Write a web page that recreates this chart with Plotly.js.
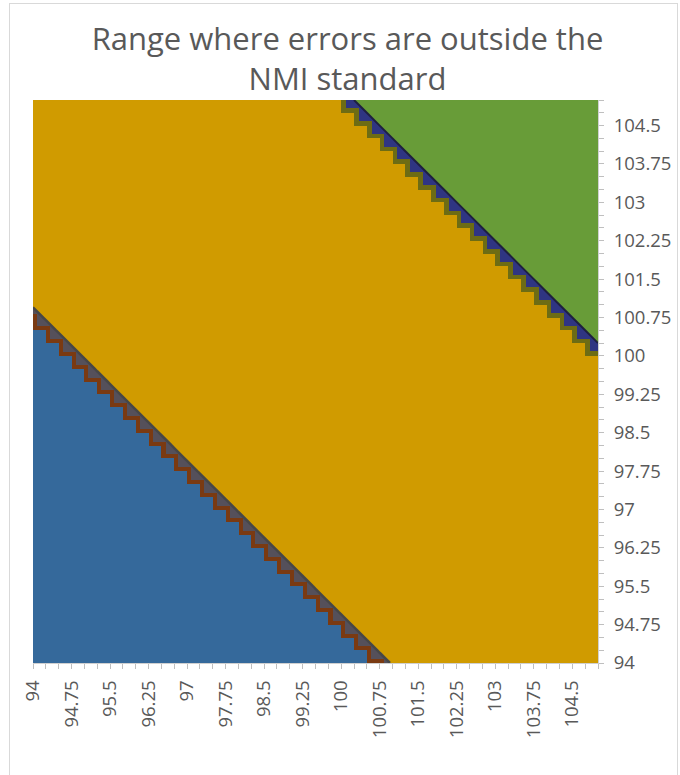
<!DOCTYPE html>
<html>
<head>
<meta charset="utf-8">
<script src="https://cdn.plot.ly/plotly-3.0.1.min.js"></script>
<style>
  html, body { margin: 0; padding: 0; background: #ffffff; }
  #frame { position: absolute; left: 9px; top: 3px; width: 667px; height: 800px; border: 1px solid #d9d9d9; pointer-events: none; }
  #chart { position: absolute; left: 0; top: 0; width: 680px; height: 775px; }
</style>
</head>
<body>
<div id="frame"></div>
<div id="chart"></div>
<script>
// Category values of both axes (step 0.25)
const xCategories = [94, 94.25, 94.5, 94.75, 95, 95.25, 95.5, 95.75, 96, 96.25, 96.5, 96.75, 97, 97.25, 97.5, 97.75,
  98, 98.25, 98.5, 98.75, 99, 99.25, 99.5, 99.75, 100, 100.25, 100.5, 100.75, 101, 101.25, 101.5, 101.75,
  102, 102.25, 102.5, 102.75, 103, 103.25, 103.5, 103.75, 104, 104.25, 104.5, 104.75, 105];
const yCategories = [94, 94.25, 94.5, 94.75, 95, 95.25, 95.5, 95.75, 96, 96.25, 96.5, 96.75, 97, 97.25, 97.5, 97.75,
  98, 98.25, 98.5, 98.75, 99, 99.25, 99.5, 99.75, 100, 100.25, 100.5, 100.75, 101, 101.25, 101.5, 101.75,
  102, 102.25, 102.5, 102.75, 103, 103.25, 103.5, 103.75, 104, 104.25, 104.5, 104.75, 105];

// Tick labels (every third category)
const tickValues = [94, 94.75, 95.5, 96.25, 97, 97.75, 98.5, 99.25, 100, 100.75, 101.5, 102.25, 103, 103.75, 104.5];
const tickLabels = ['94', '94.75', '95.5', '96.25', '97', '97.75', '98.5', '99.25', '100', '100.75', '101.5', '102.25', '103', '103.75', '104.5'];

// Limits of x + y
const lowerCellLimit = 194.75;  // cells fully below the lower limit
const lowerLineLimit = 194.95;  // lower band boundary
const upperCellLimit = 205.0;   // cells fully below the upper limit
const upperLineLimit = 205.25;  // upper band boundary

// Band colours
const colBlue = '#35699b';
const colBrown = '#7a3a12';
const colSlate = '#55505a';
const colGold = '#d09b00';
const colOlive = '#6d6c14';
const colNavy = '#2f3582';
const colGreen = '#689c38';

// Value surface x + y on the grid
const zSum = yCategories.map(y => xCategories.map(x => x + y));

function stairTrace(limit, shift, color, ax) {
  const ex = [xCategories[0] - 0.25].concat(xCategories);
  const ey = [yCategories[0] - 0.25].concat(yCategories);
  const z = [];
  for (let j = 0; j < ey.length - 1; j++) {
    const row = [];
    for (let i = 0; i < ex.length - 1; i++) {
      row.push(ex[i + 1] + ey[j + 1] <= limit + 1e-9 ? 1 : null);
    }
    z.push(row);
  }
  return {
    type: 'heatmap', x: ex.map(v => v + shift), y: ey.map(v => v + shift), z: z,
    colorscale: [[0, color], [1, color]], zmin: 0, zmax: 1, showscale: false,
    zsmooth: false, hoverinfo: 'skip', xaxis: 'x' + ax, yaxis: 'y' + ax
  };
}

// fillBelow: true fills the region where x + y < level
function bandTrace(level, fillBelow, fill, lineColor, lineWidth, ax) {
  return {
    type: 'contour', x: xCategories, y: yCategories, z: zSum,
    contours: { type: 'constraint', operation: fillBelow ? '>' : '<', value: level, showlines: lineWidth > 0 },
    fillcolor: fill, line: { color: lineColor, width: lineWidth, smoothing: 0 },
    showscale: false, hoverinfo: 'skip', xaxis: 'x' + ax, yaxis: 'y' + ax
  };
}

const traces = [
  bandTrace(upperLineLimit, true, colNavy, colNavy, 0, ''),
  bandTrace(upperLineLimit, false, colGreen, '#1f2040', 2, ''),
  stairTrace(upperCellLimit, 0.09, colOlive, '2'),
  stairTrace(upperCellLimit, 0, colGold, '2'),
  bandTrace(lowerLineLimit, true, colSlate, '#474747', 2.5, '3'),
  stairTrace(lowerCellLimit, 0.08, colBrown, '4'),
  stairTrace(lowerCellLimit, 0, colBlue, '4')
];

const tickFont = { family: 'Open Sans, sans-serif', size: 18.5, color: '#595959' };

function hiddenAxis(base) {
  return { overlaying: base, range: [94, 105], visible: false, fixedrange: true };
}

const layout = {
  width: 680, height: 775,
  margin: { l: 33, r: 82, t: 100, b: 112 },
  paper_bgcolor: 'rgba(0,0,0,0)',
  plot_bgcolor: '#ffffff',
  showlegend: false,
  title: {
    text: 'Range where errors are outside the<br>NMI standard',
    font: { family: 'Open Sans, sans-serif', size: 31, color: '#595959' },
    x: 0.511, xref: 'container', xanchor: 'center',
    y: 0.936, yref: 'container', yanchor: 'top'
  },
  xaxis: {
    range: [94, 105], tickmode: 'array', tickvals: tickValues, ticktext: tickLabels,
    tickangle: -90, ticks: 'outside', ticklen: 5, tickcolor: '#bfbfbf', tickwidth: 1,
    minor: { tickmode: 'array', tickvals: xCategories, ticks: 'outside', ticklen: 5, tickcolor: '#bfbfbf', tickwidth: 1 },
    showgrid: false, zeroline: false, showline: true, linecolor: '#d0d0d0',
    tickfont: tickFont, ticklabelstandoff: 4, fixedrange: true
  },
  yaxis: {
    range: [94, 105], side: 'right', tickmode: 'array', tickvals: tickValues, ticktext: tickLabels,
    ticks: 'outside', ticklen: 5, tickcolor: '#bfbfbf', tickwidth: 1,
    minor: { tickmode: 'array', tickvals: yCategories, ticks: 'outside', ticklen: 5, tickcolor: '#bfbfbf', tickwidth: 1 },
    showgrid: false, zeroline: false, showline: true, linecolor: '#d0d0d0',
    tickfont: tickFont, ticklabelstandoff: 6, fixedrange: true
  },
  xaxis2: hiddenAxis('x'), yaxis2: hiddenAxis('y'),
  xaxis3: hiddenAxis('x'), yaxis3: hiddenAxis('y'),
  xaxis4: hiddenAxis('x'), yaxis4: hiddenAxis('y')
};

Plotly.newPlot('chart', traces, layout, { displayModeBar: false, staticPlot: true });
</script>
</body>
</html>
